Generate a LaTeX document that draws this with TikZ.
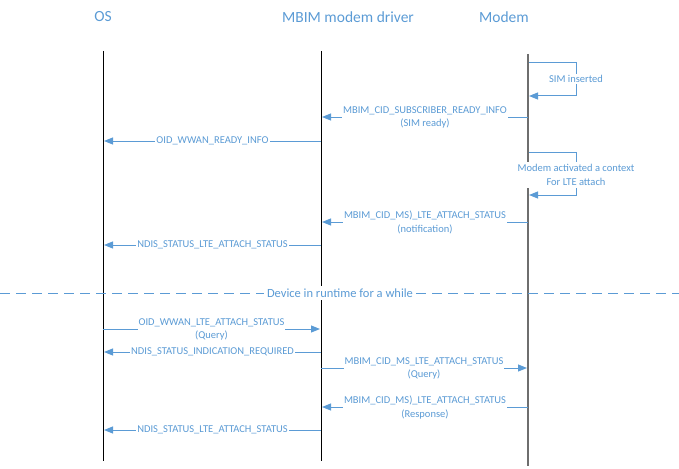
\documentclass[tikz,border=0pt]{standalone}
\usepackage{fontspec}
\setmainfont{Carlito}
\usetikzlibrary{arrows.meta}
\definecolor{msblue}{HTML}{5B9BD5}
\definecolor{lifegray}{HTML}{6E6E6E}
\tikzset{
  x=1pt, y=-1pt,
  title/.style={text=msblue, font=\fontsize{15.5}{18}\selectfont, inner sep=0pt},
  life/.style={draw=black, line width=0.9pt},
  modemlife/.style={draw=lifegray, line width=1.7pt},
  msg/.style={draw=msblue, line width=1pt, -{Triangle[length=9pt,width=7pt]}},
  lbl/.style={text=msblue, fill=white, inner sep=1pt, align=center, font=\fontsize{10.5}{13.5}\selectfont},
  sep/.style={draw=msblue, line width=0.8pt, dash pattern=on 10pt off 6pt},
}
\begin{document}
\begin{tikzpicture}
\useasboundingbox (0,0) rectangle (679,468);
% titles
\node[title] (tos) at (103,17) {OS};
\node[title] (tdrv) at (348,17) {MBIM modem driver};
\node[title] (tmod) at (504,17) {Modem};
% lifelines
\coordinate (os1) at (103,51); \coordinate (os2) at (103,461);
\coordinate (dr1) at (321,51); \coordinate (dr2) at (321,461);
\coordinate (mo1) at (528,54); \coordinate (mo2) at (528,466);
\draw[life] (os1) -- (os2);
\draw[life] (dr1) -- (dr2);
\draw[modemlife] (mo1) -- (mo2);
% self loop 1
\coordinate (l1a) at (529,63); \coordinate (l1b) at (576,80); \coordinate (l1c) at (529,96);
\draw[msg] (l1a) -| (l1b) |- (l1c);
\node[lbl] (simins) at (576,79) {SIM inserted};
% self loop 2
\coordinate (l2a) at (529,152); \coordinate (l2b) at (576,175); \coordinate (l2c) at (529,195);
\draw[msg] (l2a) -| (l2b) |- (l2c);
\node[lbl, inner sep=2.5pt] (modact) at (576,175) {Modem activated a context\\For LTE attach};
% messages
\coordinate (m1s) at (528,117); \coordinate (m1e) at (322,117);
\draw[msg] (m1s) -- (m1e) node[lbl, midway, yshift=-0.5pt] (m1l) {MBIM\_CID\_SUBSCRIBER\_READY\_INFO\\(SIM ready)};
\coordinate (m2s) at (321,141); \coordinate (m2e) at (104,141);
\draw[msg] (m2s) -- (m2e) node[lbl, midway] (m2l) {OID\_WWAN\_READY\_INFO};
\coordinate (m3s) at (528,222); \coordinate (m3e) at (322,222);
\draw[msg] (m3s) -- (m3e) node[lbl, midway, yshift=-0.5pt] (m3l) {MBIM\_CID\_MS)\_LTE\_ATTACH\_STATUS\\(notification)};
\coordinate (m4s) at (321,245); \coordinate (m4e) at (104,245);
\draw[msg] (m4s) -- (m4e) node[lbl, midway] (m4l) {NDIS\_STATUS\_LTE\_ATTACH\_STATUS};
% separator
\coordinate (sl) at (0,293); \coordinate (sr) at (679,293);
\draw[sep] (sl) -- (sr);
\node[lbl, inner sep=3pt, font=\fontsize{12.5}{15}\selectfont] (sepl) at (340,293) {Device in runtime for a while};
% after separator
\coordinate (m5s) at (103,329); \coordinate (m5e) at (320,329);
\draw[msg] (m5s) -- (m5e) node[lbl, midway, yshift=-0.5pt] (m5l) {OID\_WWAN\_LTE\_ATTACH\_STATUS\\(Query)};
\coordinate (m6s) at (321,352); \coordinate (m6e) at (104,352);
\draw[msg] (m6s) -- (m6e) node[lbl, midway] (m6l) {NDIS\_STATUS\_INDICATION\_REQUIRED};
\coordinate (m7s) at (321,368); \coordinate (m7e) at (527,368);
\draw[msg] (m7s) -- (m7e) node[lbl, midway, yshift=-0.5pt] (m7l) {MBIM\_CID\_MS\_LTE\_ATTACH\_STATUS\\(Query)};
\coordinate (m8s) at (528,407); \coordinate (m8e) at (322,407);
\draw[msg] (m8s) -- (m8e) node[lbl, midway, yshift=-0.5pt] (m8l) {MBIM\_CID\_MS)\_LTE\_ATTACH\_STATUS\\(Response)};
\coordinate (m9s) at (321,430); \coordinate (m9e) at (104,430);
\draw[msg] (m9s) -- (m9e) node[lbl, midway] (m9l) {NDIS\_STATUS\_LTE\_ATTACH\_STATUS};
\end{tikzpicture}
\end{document}
